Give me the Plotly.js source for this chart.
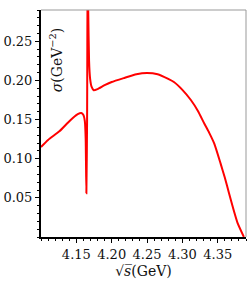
<!DOCTYPE html>
<html>
<head>
<meta charset="utf-8">
<script src="https://cdn.plot.ly/plotly-3.0.1.min.js"></script>
<style>html,body{margin:0;padding:0;background:#fff;}#chart{width:248px;height:287px;}</style>
</head>
<body>
<div id="chart"></div>
<script>
const energy = [4.100, 4.110, 4.126, 4.138, 4.145, 4.152, 4.157, 4.160, 4.162, 4.1632, 4.1642, 4.1652, 4.1660, 4.1668, 4.1680, 4.1695, 4.1715, 4.1746, 4.180, 4.190, 4.200, 4.217, 4.235, 4.250, 4.265, 4.280, 4.288, 4.300, 4.312, 4.322, 4.331, 4.338, 4.345, 4.354, 4.360, 4.366, 4.372, 4.378, 4.387];
const sigma = [0.115, 0.124, 0.135, 0.146, 0.152, 0.157, 0.1585, 0.156, 0.148, 0.125, 0.056, 0.150, 0.360, 0.290, 0.225, 0.202, 0.192, 0.1875, 0.189, 0.194, 0.198, 0.203, 0.208, 0.2096, 0.208, 0.202, 0.198, 0.188, 0.175, 0.161, 0.145, 0.133, 0.1195, 0.094, 0.076, 0.056, 0.036, 0.018, 0.000];
const xTicks = [4.15, 4.20, 4.25, 4.30, 4.35];
const xTickText = ["4.15", "4.20", "4.25", "4.30", "4.35"];
const yTicks = [0.05, 0.10, 0.15, 0.20, 0.25];
const yTickText = ["0.05", "0.10", "0.15", "0.20", "0.25"];

const trace = {
  x: energy, y: sigma, type: "scatter", mode: "lines",
  line: {color: "#ff0000", width: 2, shape: "spline", smoothing: 0.5}
};

const layout = {
  width: 248, height: 287,
  margin: {l: 41, r: 2, t: 10, b: 50},
  showlegend: false,
  xaxis: {
    range: [4.10, 4.39], tickvals: xTicks, ticktext: xTickText,
    showgrid: false, zeroline: false, showline: true, linecolor: "#000", linewidth: 2,
    ticks: "outside", ticklen: 4, tickcolor: "#000",
    minor: {dtick: 0.01, ticks: "outside", ticklen: 2, tickcolor: "#000"},
    tickfont: {family: "DejaVu Serif", size: 13, color: "#111"},
    title: {text: "\u221A<i>s\u0305</i>(GeV)", font: {family: "DejaVu Serif", size: 14, color: "#111"}, standoff: 6}
  },
  yaxis: {
    range: [0, 0.29], tickvals: yTicks, ticktext: yTickText,
    showgrid: false, zeroline: false, showline: true, linecolor: "#000", linewidth: 2,
    ticks: "outside", ticklen: 4, tickcolor: "#000",
    minor: {dtick: 0.01, ticks: "outside", ticklen: 2, tickcolor: "#000"},
    tickfont: {family: "DejaVu Serif", size: 13, color: "#111"}
  },
  shapes: [
    {type: "line", xref: "paper", yref: "paper", x0: 0, x1: 1, y0: 1, y1: 1, line: {color: "#999", width: 1}},
    {type: "line", xref: "paper", yref: "paper", x0: 1, x1: 1, y0: 0, y1: 1, line: {color: "#999", width: 1}}
  ],
  annotations: [
    {xref: "paper", yref: "paper", x: 0.075, y: 0.78, xanchor: "center", yanchor: "middle",
     text: "<i>\u03C3</i>(GeV<sup>\u22122</sup>)",
     textangle: -90, showarrow: false, font: {family: "DejaVu Serif", size: 14, color: "#111"}}
  ]
};

Plotly.newPlot("chart", [trace], layout, {staticPlot: true});
</script>
</body>
</html>
